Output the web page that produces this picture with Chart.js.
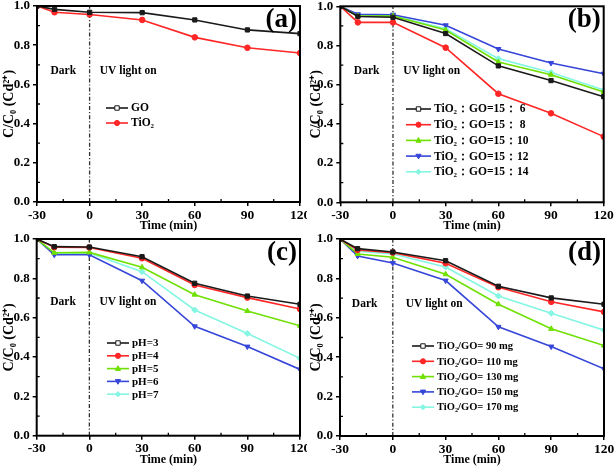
<!DOCTYPE html>
<html><head><meta charset="utf-8">
<script src="https://cdn.jsdelivr.net/npm/chart.js@4"></script>
<style>
body{margin:0;background:#fff;}
#wrap{position:relative;width:614px;height:468px;overflow:hidden;}
canvas{position:absolute;}
</style></head><body>
<div id="wrap">
<canvas id="ca" width="307" height="234" style="left:0;top:0"></canvas>
<canvas id="cb" width="307" height="234" style="left:307px;top:0"></canvas>
<canvas id="cc" width="307" height="234" style="left:0;top:234px"></canvas>
<canvas id="cd" width="307" height="234" style="left:307px;top:234px"></canvas>
</div>
<script>
// ---- data ----
const timeMin = [-30, -20, 0, 30, 60, 90, 120];

const aLabels = ['GO', 'TiO₂'];
const aGO   = [1.0, 0.983, 0.968, 0.966, 0.929, 0.878, 0.859];
const aTiO2 = [1.0, 0.968, 0.957, 0.929, 0.840, 0.787, 0.760];

const bLabels = ['TiO₂：GO=15： 6', 'TiO₂：GO=15： 8', 'TiO₂：GO=15：10', 'TiO₂：GO=15：12', 'TiO₂：GO=15：14'];
const b6  = [1.0, 0.948, 0.944, 0.861, 0.696, 0.621, 0.539];
const b8  = [1.0, 0.918, 0.918, 0.789, 0.554, 0.454, 0.335];
const b10 = [1.0, 0.950, 0.950, 0.879, 0.716, 0.651, 0.563];
const b12 = [1.0, 0.959, 0.957, 0.903, 0.782, 0.711, 0.656];
const b14 = [1.0, 0.952, 0.952, 0.886, 0.733, 0.662, 0.573];

const cLabels = ['pH=3', 'pH=4', 'pH=5', 'pH=6', 'pH=7'];
const c3 = [1.0, 0.961, 0.959, 0.910, 0.775, 0.710, 0.668];
const c4 = [1.0, 0.958, 0.957, 0.902, 0.766, 0.702, 0.644];
const c5 = [1.0, 0.930, 0.932, 0.856, 0.717, 0.634, 0.559];
const c6 = [1.0, 0.920, 0.920, 0.788, 0.556, 0.453, 0.337];
const c7 = [1.0, 0.928, 0.929, 0.834, 0.639, 0.520, 0.393];

const dLabels = ['TiO₂/GO= 90 mg', 'TiO₂/GO= 110 mg', 'TiO₂/GO= 130 mg', 'TiO₂/GO= 150 mg', 'TiO₂/GO= 170 mg'];
const d90  = [1.0, 0.951, 0.934, 0.890, 0.760, 0.701, 0.669];
const d110 = [1.0, 0.944, 0.931, 0.877, 0.755, 0.681, 0.630];
const d130 = [1.0, 0.924, 0.907, 0.821, 0.669, 0.544, 0.459];
const d150 = [1.0, 0.914, 0.878, 0.789, 0.554, 0.454, 0.341];
const d170 = [1.0, 0.9375, 0.924, 0.858, 0.711, 0.623, 0.537];

const xMinor = [-15, 15, 45, 75, 105];
const yMinor = [0.1, 0.3, 0.5, 0.7, 0.9];

// ---- styles ----
const COLORS = ['#1a1a1a', '#ff2626', '#6fe000', '#3646d8', '#84f6e2'];
const STYLES = ['rect', 'circle', 'triangle', 'triangle', 'rectRot'];
const ROTS = [0, 0, 0, 180, 0];
const FONT = '"Liberation Serif", "Times New Roman", serif';

function drawMarker(ctx, style, rot, x, y, r, color, hollow) {
  ctx.save();
  ctx.fillStyle = hollow ? '#fff' : color;
  ctx.strokeStyle = color;
  ctx.lineWidth = 1;
  ctx.translate(x, y);
  ctx.rotate(rot * Math.PI / 180);
  ctx.beginPath();
  if (style === 'rect') { ctx.rect(-r * 0.85, -r * 0.85, r * 1.7, r * 1.7); }
  else if (style === 'circle') { ctx.arc(0, 0, r, 0, Math.PI * 2); }
  else if (style === 'triangle') { ctx.moveTo(0, -r * 1.1); ctx.lineTo(r, r * 0.7); ctx.lineTo(-r, r * 0.7); ctx.closePath(); }
  else if (style === 'rectRot') { ctx.moveTo(0, -r); ctx.lineTo(r, 0); ctx.lineTo(0, r); ctx.lineTo(-r, 0); ctx.closePath(); }
  ctx.fill(); ctx.stroke();
  ctx.restore();
}

const decor = {
  id: 'decor',
  beforeDatasetsDraw(chart, args, o) {
    const {ctx, chartArea: ca, scales: {x}} = chart;
    const px = x.getPixelForValue(0);
    ctx.save();
    ctx.strokeStyle = '#333';
    ctx.lineWidth = 1.3;
    ctx.setLineDash([4, 2, 1.2, 2]);
    ctx.beginPath(); ctx.moveTo(px, ca.bottom); ctx.lineTo(px, ca.top); ctx.stroke();
    ctx.restore();
  },
  afterDraw(chart, args, o) {
    const {ctx, chartArea: ca, scales: {x, y}} = chart;
    ctx.save();
    // frame
    ctx.strokeStyle = '#000';
    ctx.lineWidth = 2;
    ctx.strokeRect(ca.left, ca.top, ca.right - ca.left, ca.bottom - ca.top);
    // minor ticks
    ctx.lineWidth = 1.3;
    ctx.beginPath();
    xMinor.forEach(v => { const p = x.getPixelForValue(v); ctx.moveTo(p, ca.bottom); ctx.lineTo(p, ca.bottom - 3); });
    yMinor.forEach(v => { const p = y.getPixelForValue(v); ctx.moveTo(ca.left, p); ctx.lineTo(ca.left + 3, p); });
    ctx.stroke();
    // annotations
    ctx.fillStyle = '#000';
    ctx.font = 'bold 11.5px ' + FONT;
    ctx.textAlign = 'center'; ctx.textBaseline = 'middle';
    ctx.fillText('Dark', x.getPixelForValue(o.darkX), y.getPixelForValue(o.textY));
    ctx.fillText('UV light on', x.getPixelForValue(o.uvX), y.getPixelForValue(o.textY));
    // panel letter
    ctx.font = 'bold 27px ' + FONT;
    ctx.textAlign = 'right';
    ctx.fillText(o.letter, ca.right - 3, ca.top + 14);
    // legend
    ctx.font = 'bold ' + o.legFont + 'px ' + FONT;
    ctx.textAlign = 'left';
    chart.data.datasets.forEach((ds, i) => {
      const yy = o.legY + i * o.legDy;
      ctx.strokeStyle = ds.borderColor;
      ctx.lineWidth = 1.6;
      ctx.beginPath(); ctx.moveTo(o.legX, yy); ctx.lineTo(o.legX + o.legLen, yy); ctx.stroke();
      drawMarker(ctx, ds.pointStyle, ds.pointRotation || 0, o.legX + o.legLen / 2, yy, 2.6, ds.borderColor, i === 0);
      ctx.fillStyle = '#000';
      ctx.fillText(ds.label, o.legX + o.legLen + 3, yy + 0.5);
    });
    ctx.restore();
  }
};

function makeChart(id, labels, series, area, opts) {
  const datasets = series.map((vals, i) => ({
    label: labels[i],
    data: timeMin.map((t, k) => ({x: t, y: vals[k]})),
    borderColor: COLORS[i],
    backgroundColor: COLORS[i],
    pointStyle: STYLES[i],
    pointRotation: ROTS[i],
    pointRadius: i === 1 ? 2.8 : 3,
    pointBorderWidth: 1,
    borderWidth: 1.6,
    tension: 0
  }));
  return new Chart(document.getElementById(id), {
    type: 'line',
    data: {datasets},
    options: {
      responsive: false,
      animation: false,
      layout: {padding: {left: 0, top: area.T, right: 307 - area.R, bottom: 0}},
      plugins: {legend: {display: false}, tooltip: {enabled: false}, decor: opts},
      scales: {
        x: {
          type: 'linear', min: -30, max: 120,
          ticks: {stepSize: 30, color: '#000', padding: 1, font: {family: FONT, size: 13.5, weight: 'bold'}},
          grid: {display: true, drawOnChartArea: false, drawTicks: true, tickLength: 4, color: '#000', lineWidth: 1.5},
          border: {display: false},
          title: {display: true, text: 'Time (min)', color: '#000', padding: {top: 0, bottom: 1}, font: {family: FONT, size: 12, weight: 'bold'}},
          afterFit(s) { s.height = 234 - area.B; s.paddingLeft = 0; s.paddingRight = 0; }
        },
        y: {
          min: 0, max: 1,
          ticks: {stepSize: 0.2, color: '#000', padding: 3, font: {family: FONT, size: 13, weight: 'bold'}, callback: v => v.toFixed(1)},
          grid: {display: true, drawOnChartArea: false, drawTicks: true, tickLength: 4, color: '#000', lineWidth: 1.5},
          border: {display: false},
          title: {display: true, text: 'C/C₀ (Cd²⁺)', color: '#000', padding: {top: 1, bottom: 0}, font: {family: FONT, size: 14, weight: 'bold'}},
          afterFit(s) { s.width = area.L; s.paddingTop = 0; s.paddingBottom = 0; }
        }
      }
    },
    plugins: [decor]
  });
}

makeChart('ca', aLabels, [aGO, aTiO2], {L: 37, R: 300, T: 6, B: 202},
  {letter: '(a)', darkX: -15, uvX: 22, textY: 0.67, legX: 106, legY: 108, legDy: 15, legLen: 22, legFont: 11.5});
makeChart('cb', bLabels, [b6, b8, b10, b12, b14], {L: 33.3, R: 296.7, T: 6.3, B: 202.3},
  {letter: '(b)', darkX: -15, uvX: 22, textY: 0.67, legX: 99, legY: 109, legDy: 15.7, legLen: 25, legFont: 11.5});
makeChart('cc', cLabels, [c3, c4, c5, c6, c7], {L: 36.7, R: 300, T: 5, B: 201.7},
  {letter: '(c)', darkX: -15, uvX: 22, textY: 0.68, legX: 107, legY: 109, legDy: 12.8, legLen: 22, legFont: 11});
makeChart('cd', dLabels, [d90, d110, d130, d150, d170], {L: 33, R: 297, T: 5, B: 202},
  {letter: '(d)', darkX: -16, uvX: 23.5, textY: 0.67, legX: 105, legY: 112, legDy: 15.3, legLen: 22, legFont: 10.5});
</script>
</body></html>
